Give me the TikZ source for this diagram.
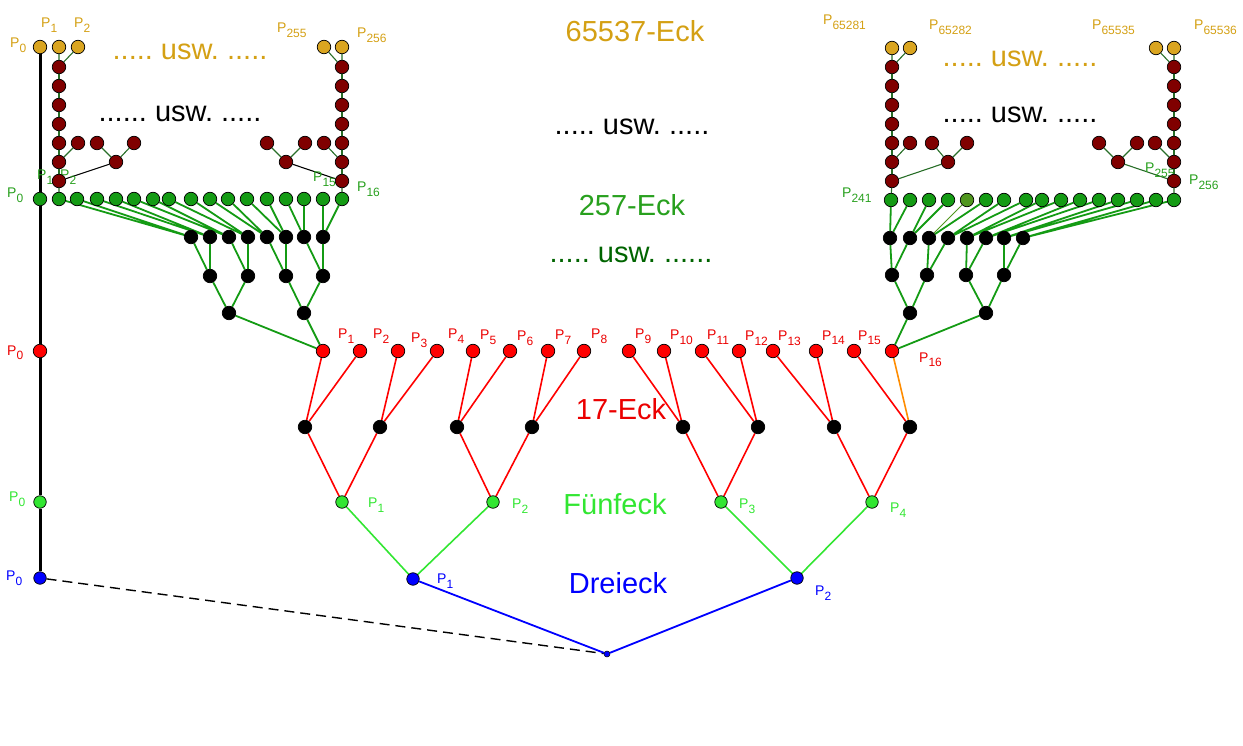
\documentclass[tikz,border=0pt]{standalone}
\usepackage{fontspec}
\setmainfont{Liberation Sans}
\usetikzlibrary{backgrounds}
\definecolor{goldc}{RGB}{218,165,32}
\definecolor{goldt}{RGB}{212,160,20}
\definecolor{dred}{RGB}{128,0,0}
\definecolor{grn}{RGB}{20,155,20}
\definecolor{grnt}{RGB}{40,160,30}
\definecolor{dgrn}{RGB}{0,100,0}
\definecolor{lgrn}{RGB}{50,230,50}
\definecolor{redc}{RGB}{255,0,0}
\definecolor{redt}{RGB}{235,0,0}
\definecolor{bluc}{RGB}{0,0,255}
\definecolor{orng}{RGB}{255,140,0}
\definecolor{olv}{RGB}{80,150,30}
\definecolor{lnk}{RGB}{40,110,40}
\newcommand{\PP}[1]{P\raisebox{-5pt}{\fontsize{12}{12}\selectfont #1}}
\begin{document}
\frenchspacing
\begin{tikzpicture}[x=1pt,y=-1pt,
  pt/.style={circle,draw=black,line width=0.7pt,inner sep=0pt,minimum size=13.5pt},
  gd/.style={pt,fill=goldc},
  dr/.style={pt,fill=dred},
  gn/.style={pt,fill=grn},
  bk/.style={pt,fill=black},
  rd/.style={pt,fill=redc},
  lg/.style={pt,fill=lgrn,minimum size=12.5pt},
  bl/.style={pt,fill=bluc,minimum size=12.5pt},
  apexs/.style={pt,fill=bluc,minimum size=6pt,line width=0.5pt},
  lbl/.style={anchor=base west,inner sep=0pt,font=\fontsize{14}{14}\selectfont},
  big/.style={anchor=base,inner sep=0pt,font=\fontsize{29}{29}\selectfont},
  colline/.style={draw=black,line width=3pt},
  dashline/.style={draw=black,line width=1.4pt,dash pattern=on 10pt off 6pt},
  bline/.style={draw=bluc,line width=1.8pt},
  lgline/.style={draw=lgrn,line width=1.6pt},
  rline/.style={draw=redc,line width=1.6pt},
  oline/.style={draw=orng,line width=1.6pt},
  gline/.style={draw=grn,line width=1.8pt},
  olvline/.style={draw=olv,line width=1pt},
  lnkline/.style={draw=lnk,line width=1.1pt},
  lnkblk/.style={draw=black,line width=1.1pt}]
\useasboundingbox (0,0) rectangle (1243,746);

% ---------- labels (under the circles)
\foreach \x/\y/\s [count=\i] in {10/48/0,41/28/1,74/28/2,277/33/255,357/38/256,823/25/65281,929/30/65282,1092/30/65535,1194/30/65536}
  \node[lbl,text=goldt] (tg\i) at (\x,\y) {\PP{\s}};
\foreach \x/\y/\s [count=\i] in {7/198/0,37/180/1,60/180/2,313/182/15,357/192/16,842/198/241,1145/173/255,1189/185/256}
  \node[lbl,text=grnt] (tn\i) at (\x,\y) {\PP{\s}};
\foreach \x/\y/\s [count=\i] in {7/355/0,338/338/1,373/338/2,411/342/3,448/338/4,480/339/5,517/341/6,555/339/7,591/338/8,635/338/9,670/339/10,707/339/11,745/341/12,778/341/13,822/340/14,858/340/15,919/362/16}
  \node[lbl,text=redt] (tr\i) at (\x,\y) {\PP{\s}};
\foreach \x/\y/\s [count=\i] in {9/501/0,368/507/1,512/508/2,739/508/3,890/512/4}
  \node[lbl,text=lgrn] (tl\i) at (\x,\y) {\PP{\s}};
\foreach \x/\y/\s [count=\i] in {6/580/0,437/583/1,815/595/2}
  \node[lbl,text=bluc] (tb\i) at (\x,\y) {\PP{\s}};

% ---------- big texts
\node[big,text=goldt] (h65537) at (635,42) {65537-Eck};
\node[big,text=goldt] (ug1) at (190,60) {..... usw. .....};
\node[big,text=goldt] (ug2) at (1020,67) {..... usw. .....};
\node[big,text=black] (ub1) at (180,122) {...... usw. .....};
\node[big,text=black] (ub2) at (1020,123) {..... usw. .....};
\node[big,text=black] (ub3) at (632,135) {..... usw. .....};
\node[big,text=grnt] (h257) at (632,216) {257-Eck};
\node[big,text=dgrn] (ud) at (631,263) {..... usw. ......};
\node[big,text=redt] (h17) at (621,419) {17-Eck};
\node[big,text=lgrn] (h5) at (615,514) {Fünfeck};
\node[big,text=bluc] (h3) at (618,593) {Dreieck};

% ---------- gold nodes
\node[gd] (gP0) at (40,47) {};
\node[gd] (gA1) at (59,47) {};
\node[gd] (gA2) at (78,47) {};
\node[gd] (gB1) at (324,47) {};
\node[gd] (gB2) at (342,47) {};
\node[gd] (gC1) at (892,48) {};
\node[gd] (gC2) at (910,48) {};
\node[gd] (gD1) at (1156,48) {};
\node[gd] (gD2) at (1174,48) {};

% ---------- dark red columns
\foreach \g/\cx in {A/59,B/342,C/892,D/1174}
  \foreach \y [count=\i] in {67,86,105,124,143,162,181}
    \node[dr] (c\g\i) at (\cx,\y) {};
\node[dr] (xA1) at (78,143) {};
\node[dr] (xA2) at (97,143) {};
\node[dr] (xA3) at (134,143) {};
\node[dr] (xA4) at (116,162) {};
\node[dr] (xB1) at (324,143) {};
\node[dr] (xB2) at (305,143) {};
\node[dr] (xB3) at (267,143) {};
\node[dr] (xB4) at (286,162) {};
\node[dr] (xC1) at (910,143) {};
\node[dr] (xC2) at (932,143) {};
\node[dr] (xC3) at (967,143) {};
\node[dr] (xC4) at (948,162) {};
\node[dr] (xD1) at (1155,143) {};
\node[dr] (xD2) at (1137,143) {};
\node[dr] (xD3) at (1099,143) {};
\node[dr] (xD4) at (1118,162) {};

% ---------- green level
\node[gn] (nP0) at (40,199) {};
\foreach \x [count=\i] in {59,77,97,116,134,153,169,191,210,228,247,267,286,304,323,342}
  \node[gn] (gL\i) at (\x,199) {};
\foreach \x/\c [count=\i] in {891/grn,910/grn,929/grn,948/grn,967/olv,986/grn,1004/grn,1026/grn,1042/grn,1061/grn,1080/grn,1099/grn,1118/grn,1137/grn,1156/grn,1174/grn}
  \node[pt,fill=\c] (gR\i) at (\x,200) {};

% ---------- black tree nodes
\foreach \x [count=\i] in {191,210,229,248,267,286,304,323}
  \node[bk] (aL\i) at (\x,237) {};
\foreach \x [count=\i] in {210,248,286,323}
  \node[bk] (bL\i) at (\x,276) {};
\node[bk] (cL1) at (229,313) {};
\node[bk] (cL2) at (304,313) {};
\foreach \x [count=\i] in {890,910,929,948,967,986,1004,1023}
  \node[bk] (aR\i) at (\x,238) {};
\foreach \x [count=\i] in {892,927,966,1004}
  \node[bk] (bR\i) at (\x,275) {};
\node[bk] (cR1) at (910,313) {};
\node[bk] (cR2) at (986,313) {};

% ---------- 17-Eck
\node[rd] (rP0) at (40,351) {};
\foreach \x [count=\i] in {323,360,398,437,473,510,548,584,629,664,702,739,773,816,854,892}
  \node[rd] (r\i) at (\x,351) {};
\foreach \x [count=\i] in {305,380,457,532,683,758,834,910}
  \node[bk] (k\i) at (\x,427) {};

% ---------- Fuenfeck / Dreieck
\node[lg] (lP0) at (40,502) {};
\foreach \x [count=\i] in {342,493,721,872}
  \node[lg] (l\i) at (\x,502) {};
\node[bl] (bP0) at (40,578) {};
\node[bl] (bP1) at (413,579) {};
\node[bl] (bP2) at (797,578) {};
\node[apexs] (apex) at (607,654) {};

% ---------- connectors
\begin{scope}[on background layer]
\draw[colline] (gP0) -- (nP0) -- (rP0) -- (lP0) -- (bP0);
\draw[dashline] (bP0) -- (apex);
\draw[bline] (apex) -- (bP1) (apex) -- (bP2);
\draw[lgline] (bP1) -- (l1) (bP1) -- (l2) (bP2) -- (l3) (bP2) -- (l4);
\foreach \i/\a/\b in {1/1/2,2/3/4,3/5/6,4/7/8}
  \draw[rline] (l\i) -- (k\a) (l\i) -- (k\b);
\foreach \k/\a/\b in {1/1/2,2/3/4,3/5/6,4/7/8,5/9/10,6/11/12,7/13/14}
  \draw[rline] (k\k) -- (r\a) (k\k) -- (r\b);
\draw[rline] (k8) -- (r15);
\draw[oline] (k8) -- (r16);
% green trees
\draw[gline] (r1) -- (cL1) (r1) -- (cL2) (cL1) -- (bL1) (cL1) -- (bL2) (cL2) -- (bL3) (cL2) -- (bL4);
\draw[gline] (r16) -- (cR1) (r16) -- (cR2) (cR1) -- (bR1) (cR1) -- (bR2) (cR2) -- (bR3) (cR2) -- (bR4);
\foreach \j in {1,...,4}{
  \pgfmathtruncatemacro\ja{2*\j-1}
  \pgfmathtruncatemacro\jb{2*\j}
  \draw[gline] (bL\j) -- (aL\ja) (bL\j) -- (aL\jb) (bR\j) -- (aR\ja) (bR\j) -- (aR\jb);
}
\foreach \k in {1,...,8}{
  \pgfmathtruncatemacro\ka{2*\k-1}
  \pgfmathtruncatemacro\kb{2*\k}
  \draw[gline] (aL\k) -- (gL\ka) (aL\k) -- (gL\kb);
}
\foreach \k in {1,2,4,5,6,7,8}{
  \pgfmathtruncatemacro\ka{2*\k-1}
  \pgfmathtruncatemacro\kb{2*\k}
  \draw[gline] (aR\k) -- (gR\ka) (aR\k) -- (gR\kb);
}
\draw[gline] (aR3) -- (gR6);
\draw[olvline] (aR3) -- (gR5);
% dark red groups
\foreach \g in {A,B,C,D}{
  \draw[lnkline] (c\g1) -- (c\g2) -- (c\g3) -- (c\g4) -- (c\g5) -- (c\g6) -- (c\g7);
  \draw[lnkline] (x\g4) -- (x\g2) (x\g4) -- (x\g3) (c\g6) -- (x\g1);
}
\draw[lnkline] (gA1) -- (cA1) (gA2) -- (cA1) (gB1) -- (cB1) (gB2) -- (cB1)
               (gC1) -- (cC1) (gC2) -- (cC1) (gD1) -- (cD1) (gD2) -- (cD1);
\draw[lnkline] (cA7) -- (gL1) (cB7) -- (gL16) (cC7) -- (gR1) (cD7) -- (gR16);
\draw[lnkblk] (xA4) -- (cA7) (xB4) -- (cB7);
\draw[lnkline] (xC4) -- (cC7) (xD4) -- (cD7);
\end{scope}
\end{tikzpicture}
\end{document}
